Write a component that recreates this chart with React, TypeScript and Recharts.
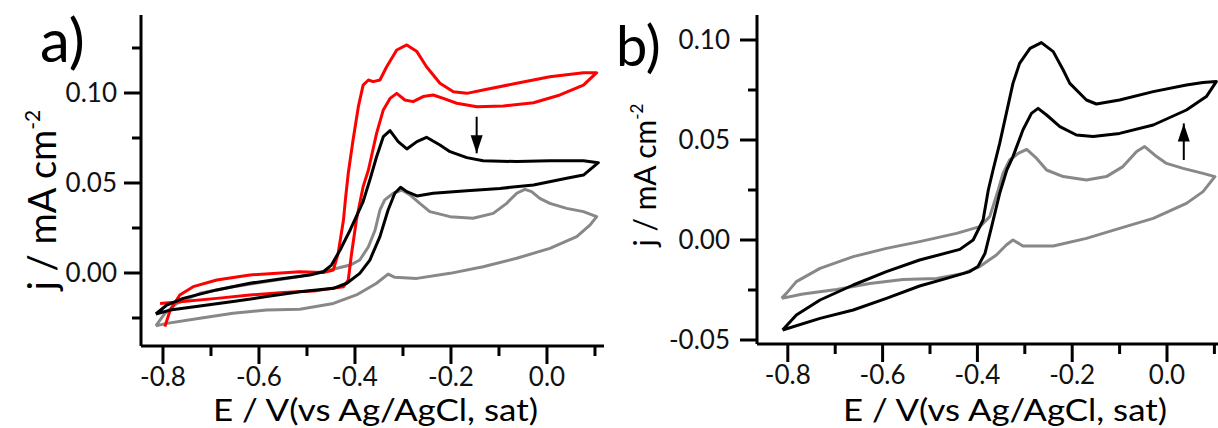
import { LineChart, Line, XAxis, YAxis } from 'recharts';

type Pt = [number, number];

// tick values
const xMajor = [-0.8, -0.6, -0.4, -0.2, 0.0];
const xMinor = [-0.7, -0.5, -0.3, -0.1, 0.1];
const aYMajor = [0.0, 0.05, 0.1];
const aYMinor = [-0.025, 0.025, 0.075, 0.125];
const bYMajor = [-0.05, 0.0, 0.05, 0.1];
const bYMinor = [-0.025, 0.025, 0.075];

// panel a) – each loop follows the scan: lower branch out to the right vertex, upper branch back
const aRed: Pt[] = [
  [-0.806, -0.0169], [-0.758, -0.0159], [-0.688, -0.0141], [-0.619, -0.0122], [-0.549, -0.0109],
  [-0.48, -0.0098], [-0.424, -0.0076], [-0.414, -0.0039], [-0.407, 0.011], [-0.397, 0.0294],
  [-0.383, 0.048], [-0.372, 0.0572], [-0.355, 0.0776], [-0.341, 0.0906], [-0.327, 0.097],
  [-0.313, 0.0998], [-0.296, 0.0961], [-0.279, 0.0952], [-0.258, 0.098], [-0.237, 0.0989],
  [-0.216, 0.097], [-0.188, 0.0943], [-0.146, 0.0924], [-0.091, 0.0928], [-0.028, 0.0946],
  [0.027, 0.0989], [0.076, 0.1044], [0.1035, 0.1113],
  [0.076, 0.1113], [0.006, 0.109], [-0.063, 0.1054], [-0.133, 0.1017], [-0.167, 0.0998],
  [-0.195, 0.1007], [-0.223, 0.1054], [-0.251, 0.1146], [-0.271, 0.123], [-0.292, 0.1267],
  [-0.313, 0.1239], [-0.334, 0.1146], [-0.348, 0.1072], [-0.362, 0.1063], [-0.372, 0.1072],
  [-0.383, 0.1044], [-0.393, 0.0924], [-0.404, 0.0739], [-0.414, 0.0554], [-0.42, 0.0406],
  [-0.424, 0.0294], [-0.435, 0.011], [-0.445, 0.0017], [-0.466, 0.0003], [-0.515, 0.0007],
  [-0.619, -0.0011], [-0.688, -0.0039], [-0.737, -0.0076], [-0.765, -0.0122], [-0.785, -0.0206],
  [-0.796, -0.0298],
];

const aBlack: Pt[] = [
  [-0.815, -0.0228], [-0.785, -0.0206], [-0.723, -0.0183], [-0.654, -0.0159], [-0.584, -0.0131],
  [-0.515, -0.0104], [-0.445, -0.0085], [-0.417, -0.0057], [-0.39, -0.0002], [-0.369, 0.0072],
  [-0.348, 0.0202], [-0.331, 0.035], [-0.317, 0.0443], [-0.305, 0.0476], [-0.292, 0.0452],
  [-0.271, 0.0428], [-0.237, 0.0443], [-0.167, 0.0457], [-0.098, 0.047], [-0.028, 0.0489],
  [0.041, 0.0526], [0.076, 0.0544], [0.107, 0.0613],
  [0.076, 0.0624], [0.006, 0.0624], [-0.063, 0.0619], [-0.133, 0.0624], [-0.167, 0.0641],
  [-0.202, 0.0674], [-0.223, 0.0711], [-0.251, 0.0754], [-0.271, 0.073], [-0.292, 0.0689],
  [-0.31, 0.073], [-0.327, 0.0791], [-0.341, 0.0757], [-0.355, 0.0646], [-0.369, 0.0517],
  [-0.383, 0.0397], [-0.41, 0.0239], [-0.431, 0.0128], [-0.449, 0.0044], [-0.466, 0.0007],
  [-0.494, -0.0011], [-0.549, -0.003], [-0.619, -0.0057], [-0.688, -0.0094], [-0.758, -0.0141],
  [-0.792, -0.0178], [-0.815, -0.0228],
];

const aGray: Pt[] = [
  [-0.815, -0.0294], [-0.792, -0.028], [-0.723, -0.0252], [-0.654, -0.0224], [-0.584, -0.0206],
  [-0.515, -0.0202], [-0.445, -0.0169], [-0.397, -0.0122], [-0.355, -0.0057], [-0.331, -0.0006],
  [-0.317, -0.0024], [-0.271, -0.003], [-0.202, -0.0002], [-0.133, 0.0035], [-0.063, 0.0082],
  [0.006, 0.0137], [0.062, 0.0202], [0.09, 0.0267], [0.1035, 0.0313],
  [0.076, 0.0341], [0.041, 0.0359], [0.006, 0.0387], [-0.015, 0.0415], [-0.032, 0.0452],
  [-0.046, 0.0465], [-0.063, 0.0443], [-0.084, 0.0387], [-0.112, 0.0331], [-0.154, 0.0304],
  [-0.202, 0.0313], [-0.244, 0.0341], [-0.265, 0.0387], [-0.285, 0.0433], [-0.303, 0.0461],
  [-0.32, 0.0443], [-0.338, 0.0406], [-0.348, 0.035], [-0.358, 0.0239], [-0.372, 0.0146],
  [-0.39, 0.0072], [-0.41, 0.0044], [-0.452, 0.0017], [-0.515, -0.002], [-0.584, -0.0048],
  [-0.654, -0.0076], [-0.723, -0.0113], [-0.771, -0.0169], [-0.796, -0.0224], [-0.815, -0.0294],
];

// panel b)
const bBlack: Pt[] = [
  [-0.811, -0.045], [-0.732, -0.0392], [-0.662, -0.035], [-0.592, -0.0292], [-0.522, -0.023],
  [-0.465, -0.0192], [-0.416, -0.0158], [-0.399, -0.0133], [-0.384, -0.0067], [-0.37, 0.0067],
  [-0.353, 0.0233], [-0.338, 0.035], [-0.325, 0.0417], [-0.304, 0.055], [-0.286, 0.0633],
  [-0.272, 0.0658], [-0.254, 0.0625], [-0.226, 0.0567], [-0.191, 0.0525], [-0.156, 0.0517],
  [-0.1, 0.0533], [-0.029, 0.0575], [0.041, 0.065], [0.083, 0.0717], [0.104, 0.0792],
  [0.076, 0.0787], [0.041, 0.0775], [-0.029, 0.0742], [-0.1, 0.07], [-0.149, 0.068],
  [-0.17, 0.07], [-0.205, 0.0783], [-0.219, 0.085], [-0.24, 0.0942], [-0.265, 0.0987],
  [-0.289, 0.0958], [-0.311, 0.0883], [-0.325, 0.0783], [-0.339, 0.0633], [-0.353, 0.0483],
  [-0.367, 0.035], [-0.377, 0.025], [-0.388, 0.01], [-0.409, 0.0], [-0.437, -0.0047],
  [-0.522, -0.01], [-0.592, -0.0158], [-0.662, -0.0225], [-0.732, -0.03], [-0.782, -0.0375],
  [-0.811, -0.045],
];

const bGray: Pt[] = [
  [-0.813, -0.0292], [-0.768, -0.027], [-0.697, -0.0247], [-0.627, -0.0217], [-0.557, -0.0197],
  [-0.486, -0.0192], [-0.43, -0.0167], [-0.395, -0.0133], [-0.36, -0.0075], [-0.339, -0.0025],
  [-0.325, 0.0], [-0.304, -0.003], [-0.24, -0.003], [-0.17, 0.0008], [-0.1, 0.0058],
  [-0.029, 0.0108], [0.041, 0.0183], [0.076, 0.0242], [0.101, 0.0317],
  [0.076, 0.0333], [0.034, 0.0358], [-0.001, 0.0383], [-0.022, 0.0417], [-0.047, 0.0467],
  [-0.064, 0.0442], [-0.093, 0.0367], [-0.128, 0.0317], [-0.17, 0.03], [-0.219, 0.0317],
  [-0.254, 0.035], [-0.275, 0.0408], [-0.296, 0.0453], [-0.314, 0.0433], [-0.332, 0.04],
  [-0.346, 0.0333], [-0.356, 0.025], [-0.374, 0.0117], [-0.395, 0.0067], [-0.444, 0.0033],
  [-0.522, -0.0008], [-0.592, -0.0042], [-0.662, -0.0083], [-0.732, -0.0142], [-0.782, -0.0208],
  [-0.803, -0.0267], [-0.813, -0.0292],
];

// arrows: [tail, tip]
const aArrow: Pt[] = [[-0.1465, 0.0868], [-0.1465, 0.0665]];
const bArrow: Pt[] = [[0.0354, 0.04], [0.0354, 0.0583]];

const rows = (pts: Pt[]) => pts.map(([E, j]) => ({ E, j }));
const has = (list: number[], v: number) => list.some((m) => Math.abs(m - v) < 1e-6);

const FONT = 'Lato, "Open Sans", sans-serif';

const xTick = (props: any) => {
  const { x, y, payload } = props;
  const major = has(xMajor, payload.value);
  return (
    <g>
      <line x1={x} x2={x} y1={y} y2={y + (major ? 18 : 10)} stroke="#000" strokeWidth={3} />
      {major && (
        <text x={x} y={y + 40} textAnchor="middle" fontFamily={FONT} fontSize={26} fill="#111">
          {(Math.abs(payload.value) < 1e-9 ? 0 : payload.value).toFixed(1)}
        </text>
      )}
    </g>
  );
};

const makeYTick = (majors: number[], gap: number) => (props: any) => {
  const { x, y, payload } = props;
  const major = has(majors, payload.value);
  return (
    <g>
      <line x1={x} x2={x - (major ? 17 : 9)} y1={y} y2={y} stroke="#000" strokeWidth={3} />
      {major && (
        <text x={x - gap} y={y + 9} textAnchor="end" fontFamily={FONT} fontSize={26} fill="#111">
          {(Math.abs(payload.value) < 1e-9 ? 0 : payload.value).toFixed(2)}
        </text>
      )}
    </g>
  );
};

const arrowHead = (pts: Pt[]) => (p: any) => {
  if (p.index !== 1) return <g key={`h${p.index}`} />;
  const up = pts[1][1] > pts[0][1];
  const s = up ? 1 : -1;
  const d = `M${p.cx},${p.cy} L${p.cx - 6},${p.cy + s * 18} L${p.cx + 6},${p.cy + s * 18} Z`;
  return <path key="head" d={d} fill="#000" />;
};

interface Series { pts: Pt[]; color: string }

interface PanelProps {
  left: number;
  width: number;
  margin: { top: number; right: number; bottom: number; left: number };
  xDomain: [number, number];
  yDomain: [number, number];
  yMajor: number[];
  yMinor: number[];
  yGap: number;
  series: Series[];
  arrow: Pt[];
}

const Y_W = 60;
const X_H = 30;

function Panel({ left, width, margin, xDomain, yDomain, yMajor, yMinor, yGap, series, arrow }: PanelProps) {
  return (
    <div style={{ position: 'absolute', left, top: 0 }}>
      <LineChart width={width} height={428} margin={margin}>
        <XAxis
          dataKey="E" type="number" domain={xDomain} allowDataOverflow
          ticks={[...xMajor, ...xMinor].sort((a, b) => a - b)} interval={0}
          height={X_H} tickSize={0} tickMargin={0} tickLine={false}
          axisLine={{ stroke: '#000', strokeWidth: 3 }} tick={xTick}
        />
        <YAxis
          dataKey="j" type="number" domain={yDomain} allowDataOverflow
          ticks={[...yMajor, ...yMinor].sort((a, b) => a - b)} interval={0}
          width={Y_W} tickSize={0} tickMargin={0} tickLine={false}
          axisLine={{ stroke: '#000', strokeWidth: 3 }} tick={makeYTick(yMajor, yGap)}
        />
        {series.map((s, i) => (
          <Line
            key={i} data={rows(s.pts)} dataKey="j" type="linear"
            stroke={s.color} strokeWidth={3} strokeLinejoin="round" dot={false}
            isAnimationActive={false}
          />
        ))}
        <Line
          data={rows(arrow)} dataKey="j" type="linear" stroke="#000" strokeWidth={2}
          dot={arrowHead(arrow)} activeDot={false} isAnimationActive={false}
        />
      </LineChart>
    </div>
  );
}

export default function App() {
  return (
    <div style={{ position: 'absolute', left: 0, top: 0, width: 1218, height: 428, background: '#fff', overflow: 'hidden' }}>
      <Panel
        left={0} width={610}
        margin={{ top: 15, right: 6, bottom: 82 - X_H, left: 141 - Y_W }}
        xDomain={[-0.8458, 0.1188]} yDomain={[-0.04056, 0.14333]}
        yMajor={aYMajor} yMinor={aYMinor} yGap={24}
        series={[{ pts: aGray, color: '#888888' }, { pts: aRed, color: '#ff0000' }, { pts: aBlack, color: '#000000' }]}
        arrow={aArrow}
      />
      <Panel
        left={610} width={608}
        margin={{ top: 15, right: 0, bottom: 84 - X_H, left: 147 - Y_W }}
        xDomain={[-0.865, 0.1076]} yDomain={[-0.052, 0.1125]}
        yMajor={bYMajor} yMinor={bYMinor} yGap={27}
        series={[{ pts: bGray, color: '#888888' }, { pts: bBlack, color: '#000000' }]}
        arrow={bArrow}
      />
      <svg width={1218} height={428} style={{ position: 'absolute', left: 0, top: 0, pointerEvents: 'none' }}>
        <g fontFamily={FONT} fill="#000">
          <text x={40} y={62} fontSize={60}>a)</text>
          <text x={616} y={66} fontSize={56}>b)</text>
          <text x={213} y={421} fontSize={30} textLength={325} lengthAdjust="spacingAndGlyphs">E / V(vs Ag/AgCl, sat)</text>
          <text x={843} y={421} fontSize={30} textLength={324} lengthAdjust="spacingAndGlyphs">E / V(vs Ag/AgCl, sat)</text>
          <text transform="translate(56,200) rotate(-90)" fontSize={38} textAnchor="middle">
            j / mA cm<tspan dy={-16} fontSize={21}>-2</tspan>
          </text>
          <text transform="translate(656,175) rotate(-90)" fontSize={30} textAnchor="middle">
            j / mA cm<tspan dy={-13} fontSize={17}>-2</tspan>
          </text>
        </g>
      </svg>
    </div>
  );
}
